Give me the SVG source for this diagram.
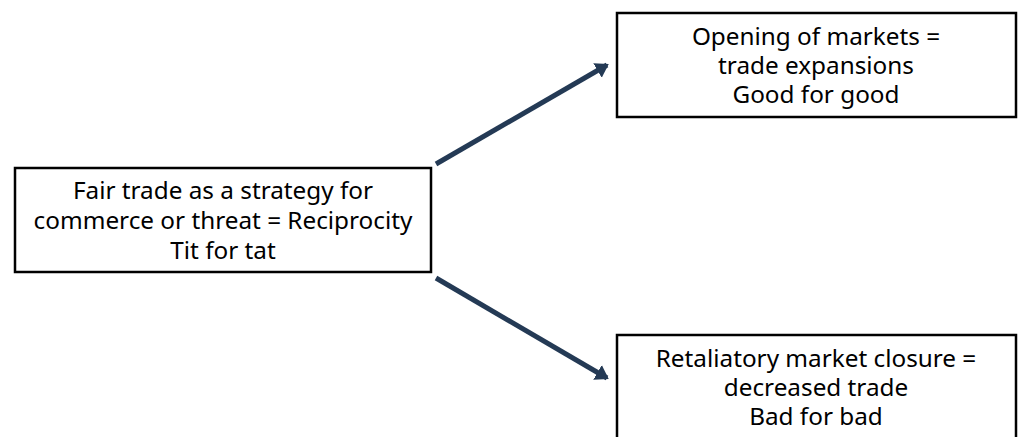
<svg xmlns="http://www.w3.org/2000/svg" width="1019" height="437" viewBox="0 0 1019 437">
<defs>
<style>
.box{fill:#fff;stroke:#000;stroke-width:2.5}
.t{font-family:"Noto Sans","Noto Sans CJK KR",sans-serif;font-size:24.3px;fill:#000;text-anchor:middle}
.c{stroke:#243A55;stroke-width:5;fill:none;stroke-linecap:butt}
</style>
<marker id="ah" markerWidth="4" markerHeight="4" refX="2.2" refY="2" orient="auto" markerUnits="strokeWidth">
<path d="M0,0.3 L2.6,2 L0,3.7 Z" fill="#243A55"/>
</marker>
</defs>
<rect width="1019" height="437" fill="#fff"/>
<g id="connectors">
<line class="c" x1="436" y1="164" x2="607" y2="65" marker-end="url(#ah)"/>
<line class="c" x1="436" y1="278" x2="607" y2="378" marker-end="url(#ah)"/>
</g>
<g id="node-center">
<rect class="box" x="15" y="168" width="416" height="104"/>
<text class="t" x="223" y="199">Fair trade as a strategy for</text>
<text class="t" x="223" y="229">commerce or threat = Reciprocity</text>
<text class="t" x="223" y="259">Tit for tat</text>
</g>
<g id="node-top">
<rect class="box" x="617" y="13" width="399" height="104"/>
<text class="t" x="816" y="45">Opening of markets =</text>
<text class="t" x="816" y="74">trade expansions</text>
<text class="t" x="816" y="103">Good for good</text>
</g>
<g id="node-bottom">
<rect class="box" x="617" y="335" width="399" height="110"/>
<text class="t" x="816" y="367">Retaliatory market closure =</text>
<text class="t" x="816" y="396">decreased trade</text>
<text class="t" x="816" y="425">Bad for bad</text>
</g>
</svg>
